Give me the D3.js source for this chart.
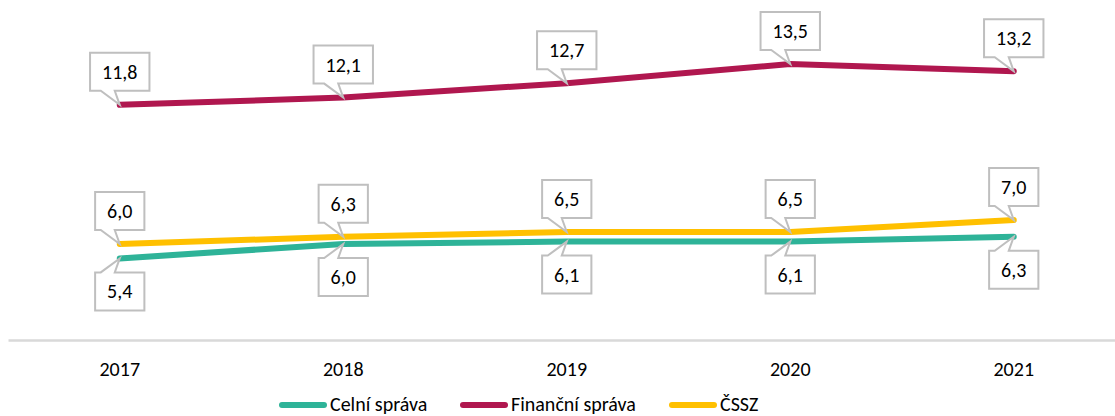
<!DOCTYPE html>
<html>
<head>
<meta charset="utf-8">
<script src="https://cdn.jsdelivr.net/npm/d3@7"></script>
<style>
  body { margin: 0; background: #fff; }
  svg text { font-family: Carlito, Calibri, Lato, sans-serif; fill: #000; }
</style>
</head>
<body>
<div id="chart"></div>
<script>
// data
var years = ["2017", "2018", "2019", "2020", "2021"];
var celni = [5.4, 6.0, 6.1, 6.1, 6.3];
var financni = [11.8, 12.1, 12.7, 13.5, 13.2];
var cssz = [6.0, 6.3, 6.5, 6.5, 7.0];
var seriesNames = ["Celní správa", "Finanční správa", "ČSSZ"];
var colors = ["#2EB398", "#B0174F", "#FFC000"];
// label goes above (-1) or below (+1) the point
var labelSide = [1, -1, -1];

var svgWidth = 1115, svgHeight = 416;

var svg = d3.select("#chart")
  .append("svg")
  .attr("width", svgWidth)
  .attr("height", svgHeight);

var x = d3.scaleBand()
  .domain(years)
  .range([8, 1125.5])
  .padding(0);

var y = d3.scaleLinear()
  .domain([2, 16])
  .range([340, 4]);

var cx = d => x(d) + x.bandwidth() / 2;

// x axis
var xAxis = svg.append("g")
  .attr("transform", `translate(0, ${y(2)})`)
  .call(d3.axisBottom(x).tickSize(0).tickPadding(22));
xAxis.select(".domain").attr("stroke", "#d9d9d9").attr("stroke-width", 2.5);
xAxis.selectAll("text").style("font-size", "20px").attr("font-family", null);

var series = [celni, financni, cssz].map(function(vals, i) {
  return { name: seriesNames[i], color: colors[i], side: labelSide[i],
    values: vals.map((v, j) => ({ year: years[j], value: v })) };
});

var line = d3.line()
  .x(d => cx(d.year))
  .y(d => y(d.value));

svg.selectAll("path.series")
  .data(series)
  .enter()
  .append("path")
  .attr("class", "series")
  .attr("fill", "none")
  .attr("stroke", d => d.color)
  .attr("stroke-width", 6)
  .attr("stroke-linecap", "round")
  .attr("stroke-linejoin", "round")
  .attr("d", d => line(d.values));

// callout labels
var fmt = v => v.toFixed(1).replace(".", ",");
var boxH = 38, gap = 14, padX = 12;

series.forEach(function(s) {
  s.values.forEach(function(d) {
    var px = cx(d.year), py = y(d.value);
    var g = svg.append("g");
    var path = g.append("path")
      .attr("fill", "#fff")
      .attr("stroke", "#bfbfbf")
      .attr("stroke-width", 2);
    var t = g.append("text")
      .attr("text-anchor", "middle")
      .style("font-size", "20px")
      .text(fmt(d.value));
    var w = Math.max(48, t.node().getComputedTextLength() + padX * 2);
    var x0 = px - w / 2, x1 = px + w / 2;
    var top, bot, p;
    if (s.side < 0) {
      bot = py - gap; top = bot - boxH;
      p = `M${x0},${top}H${x1}V${bot}H${px - 5}L${px},${py}L${px - 19},${bot}H${x0}Z`;
    } else {
      top = py + gap; bot = top + boxH;
      p = `M${x0},${top}H${px - 19}L${px},${py}L${px - 5},${top}H${x1}V${bot}H${x0}Z`;
    }
    path.attr("d", p);
    t.attr("x", px).attr("y", (top + bot) / 2 + 7);
  });
});

// legend, one slot per series
var slots = [279, 460, 669], ly = 405;
var legend = svg.append("g");
series.forEach(function(s, i) {
  var lx = slots[i];
  legend.append("line")
    .attr("x1", lx + 3).attr("x2", lx + 45)
    .attr("y1", ly).attr("y2", ly)
    .attr("stroke", s.color)
    .attr("stroke-width", 6)
    .attr("stroke-linecap", "round");
  legend.append("text")
    .attr("x", lx + 51)
    .attr("y", ly + 6)
    .style("font-size", "20px")
    .text(s.name);
});
</script>
</body>
</html>
